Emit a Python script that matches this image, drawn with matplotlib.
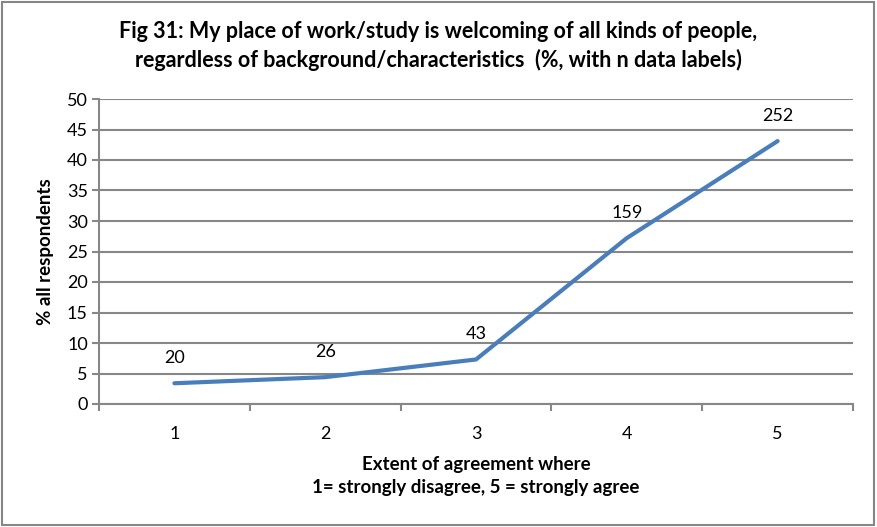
import matplotlib.pyplot as plt
from matplotlib.patches import Rectangle

plt.rcParams['font.family'] = ['Lato', 'DejaVu Sans']

# agreement level, % of all respondents, n labels
levels = [1, 2, 3, 4, 5]
pct = [3.4, 4.4, 7.3, 27.2, 43.1]
n_labels = [20, 26, 43, 159, 252]

grey = '#878787'

fig = plt.figure(figsize=(8.77, 5.27), dpi=100)
ax = fig.add_axes([99/877, 1 - 404/527, 754/877, 305/527])

ax.plot(levels, pct, color='#4a7ebb', lw=3, solid_capstyle='round', zorder=3)
for x, y, n in zip(levels, pct, n_labels):
    ax.annotate(str(n), (x, y), xytext=(0, 18), textcoords='offset points',
                ha='center', va='center', fontsize=13)

ax.set_xlim(0.5, 5.5)
ax.set_ylim(0, 50)
ax.set_yticks(range(0, 51, 5))
ax.set_xticks(levels)
ax.set_xticks([0.5, 1.5, 2.5, 3.5, 4.5, 5.5], minor=True)
ax.tick_params(axis='x', which='major', length=0, pad=16, labelsize=13)
ax.tick_params(axis='x', which='minor', length=5, width=1.5, color=grey)
ax.tick_params(axis='y', length=5, width=1.5, color=grey, labelsize=13, pad=3)
ax.grid(axis='y', color=grey, lw=1.5)
ax.set_axisbelow(True)
for s in ['top', 'right']:
    ax.spines[s].set_visible(False)
for s in ['left', 'bottom']:
    ax.spines[s].set_color(grey)
    ax.spines[s].set_linewidth(1.5)

ax.set_ylabel('% all respondents', fontsize=13.5, fontweight='bold', labelpad=9)
ax.set_xlabel('Extent of agreement where\n1= strongly disagree, 5 = strongly agree',
              fontsize=13.5, fontweight='bold', labelpad=10, linespacing=1.45)

fig.text(0.5, 1 - 46/527,
         'Fig 31: My place of work/study is welcoming of all kinds of people,\n'
         'regardless of background/characteristics  (%, with n data labels)',
         ha='center', va='center', fontsize=15.5, fontweight='bold', linespacing=1.35)

fig.patches.append(Rectangle((0.002, 0.003), 0.995, 0.994, transform=fig.transFigure,
                             fill=False, edgecolor='#868686', lw=1.5))

fig.savefig('out.png', dpi=100)
